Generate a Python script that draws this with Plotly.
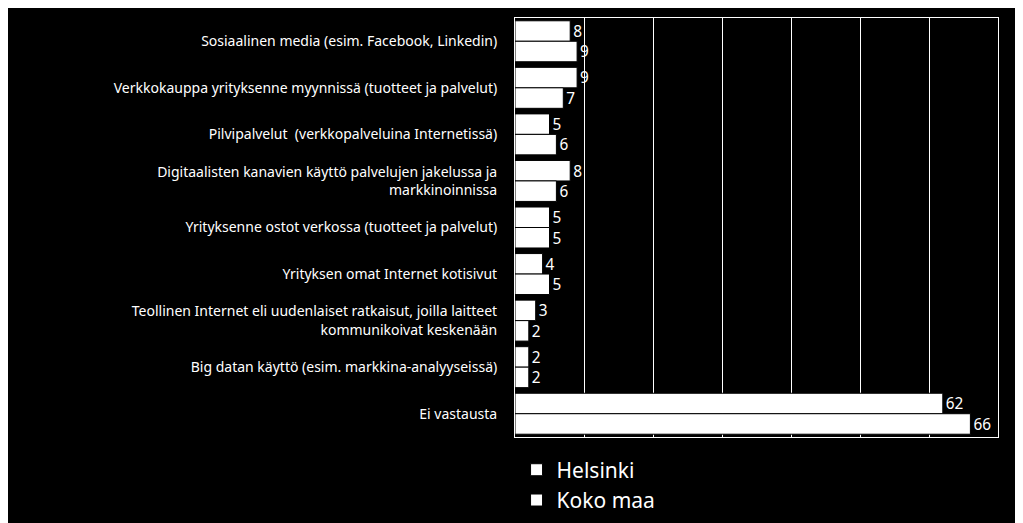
import plotly.graph_objects as go

categories = [
    "Sosiaalinen media (esim. Facebook, Linkedin)",
    "Verkkokauppa yrityksenne myynnissä (tuotteet ja palvelut)",
    "Pilvipalvelut  (verkkopalveluina Internetissä)",
    "Digitaalisten kanavien käyttö palvelujen jakelussa ja<br>markkinoinnissa",
    "Yrityksenne ostot verkossa (tuotteet ja palvelut)",
    "Yrityksen omat Internet kotisivut",
    "Teollinen Internet eli uudenlaiset ratkaisut, joilla laitteet<br>kommunikoivat keskenään",
    "Big datan käyttö (esim. markkina-analyyseissä)",
    "Ei vastausta",
]
helsinki = [8, 9, 5, 8, 5, 4, 3, 2, 62]
koko_maa = [9, 7, 6, 6, 5, 5, 2, 2, 66]

fig = go.Figure()
for name, vals in [("Helsinki", helsinki), ("Koko maa", koko_maa)]:
    fig.add_trace(go.Bar(
        y=categories, x=vals, name=name, orientation="h",
        marker=dict(color="white", line=dict(color="black", width=1)),
        text=vals, textposition="outside", cliponaxis=False,
        textfont=dict(color="white", size=21),
    ))

fig.update_layout(
    width=1023, height=523,
    paper_bgcolor="black", plot_bgcolor="black",
    font=dict(family="Noto Sans", color="white", size=14),
    barmode="group", bargap=0.12, bargroupgap=0,
    margin=dict(l=507, r=33, t=10, b=58),
    legend=dict(orientation="h", x=0.35, xanchor="center", y=-0.03, yanchor="top",
                font=dict(size=21, color="white"), itemwidth=30,
                entrywidth=290),
    xaxis=dict(range=[0, 70], dtick=10, showticklabels=False, showgrid=True,
               gridcolor="white", gridwidth=1, zeroline=False,
               showline=True, linecolor="white", mirror=True, automargin=False),
    yaxis=dict(autorange="reversed", showline=True, linecolor="white", mirror=True,
               ticks="", ticklabelstandoff=14, automargin=False),
)
fig.write_html("out.html")
